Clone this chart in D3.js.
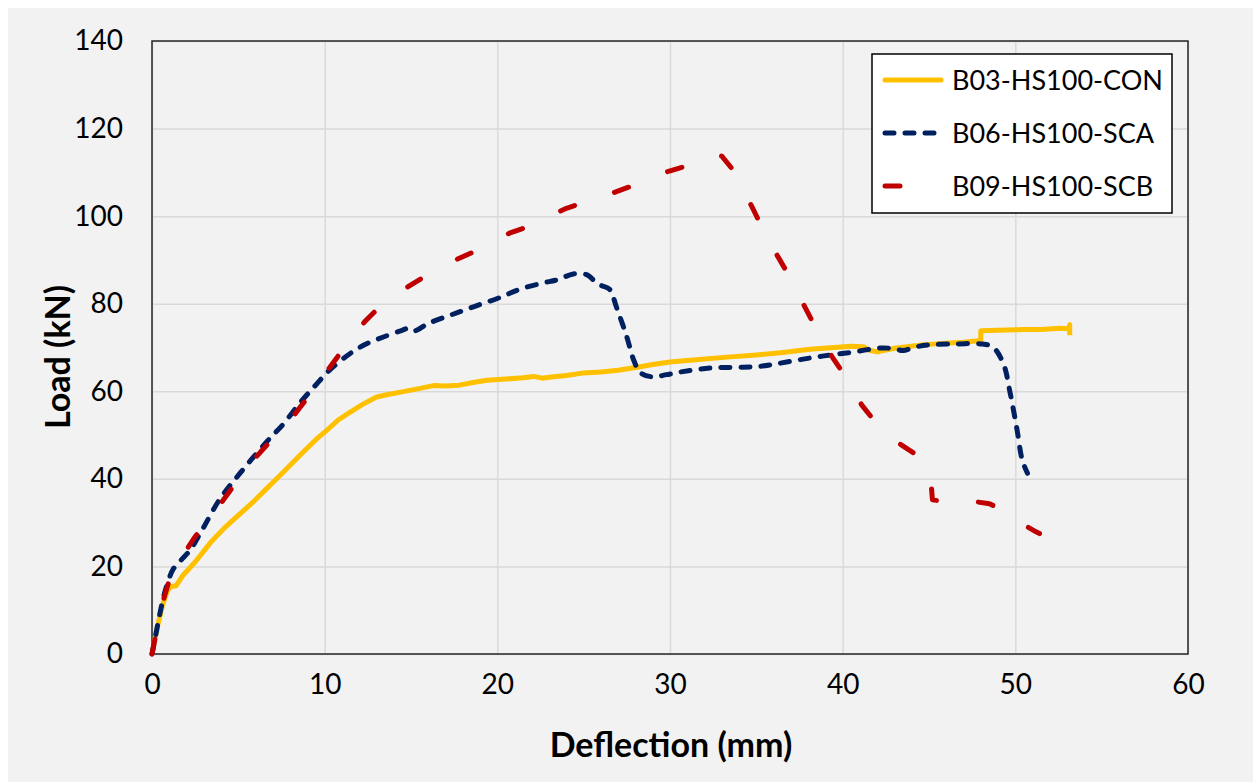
<!DOCTYPE html>
<html>
<head>
<meta charset="utf-8">
<script src="https://cdn.jsdelivr.net/npm/d3@7"></script>
<style>
  body { margin: 0; background: #ffffff; }
  svg { display: block; font-family: Lato, "Open Sans", sans-serif; }
</style>
</head>
<body>
<svg id="chart"></svg>
<script>
// B03-HS100-CON (deflection mm, load kN)
const conDefl = [0, 0.3, 0.6, 0.9, 1.1, 1.4, 1.8, 2.5, 3.4, 4.2, 4.9, 5.8, 6.7, 7.6, 8.6, 9.5, 10.1, 10.8, 11.5, 12.2, 13.0, 13.6, 14.4, 15.3, 16.3, 17.0, 17.8, 18.6, 19.4, 20.5, 21.5, 22.1, 22.6, 23.0, 24.0, 25.0, 26.0, 27.0, 28.1, 29.0, 30.0, 31.5, 33.3, 35.0, 36.4, 38.1, 39.5, 40.5, 41.2, 41.6, 42.0, 42.5, 43.1, 44.6, 46.0, 47.0, 48.0, 48.0, 49.5, 50.5, 51.5, 52.6, 53.1, 53.15, 53.15];
const conLoad = [0, 6, 11, 14.5, 15.4, 15.6, 18.0, 21.0, 25.5, 28.8, 31.3, 34.5, 38.0, 41.5, 45.5, 49.0, 51.0, 53.5, 55.3, 57.0, 58.7, 59.2, 59.8, 60.5, 61.3, 61.2, 61.4, 62.0, 62.5, 62.8, 63.1, 63.4, 63.0, 63.2, 63.6, 64.2, 64.4, 64.8, 65.5, 66.1, 66.7, 67.2, 67.8, 68.3, 68.8, 69.6, 70.0, 70.3, 70.2, 69.3, 69.0, 69.4, 69.9, 70.6, 71.0, 71.2, 71.6, 73.8, 74.0, 74.1, 74.1, 74.4, 74.3, 75.2, 72.8];

// B06-HS100-SCA
const scaDefl = [0, 0.2, 0.46, 0.7, 0.85, 1.2, 1.7, 2.2, 2.9, 3.9, 5.1, 6.65, 7.6, 8.6, 9.5, 10.3, 11.5, 12.4, 13.4, 14.4, 14.9, 15.2, 16.0, 17.3, 18.7, 20.2, 21.3, 22.6, 23.5, 24.4, 25.2, 25.6, 26.0, 26.5, 26.9, 27.5, 27.9, 28.3, 29.0, 29.8, 30.6, 32.3, 34.2, 35.2, 36.2, 38.1, 39.3, 40.5, 42.2, 43.0, 43.5, 44.2, 45.0, 46.5, 48.1, 48.7, 49.3, 49.7, 50.1, 50.4, 50.7];
const scaLoad = [0, 4, 9.3, 13.5, 15.5, 19.2, 21.5, 23.7, 28.3, 35.2, 41.3, 48.5, 52.5, 57.5, 61.5, 64.9, 68.7, 70.8, 72.4, 73.8, 74.4, 73.8, 75.5, 77.4, 79.4, 81.5, 83.3, 84.7, 85.5, 86.8, 86.6, 85.3, 84.2, 83.3, 79.2, 72.4, 67.1, 64.2, 63.3, 63.8, 64.4, 65.3, 65.5, 65.7, 66.3, 67.6, 68.3, 68.9, 69.9, 69.7, 69.3, 70.1, 70.6, 70.8, 70.8, 70.1, 66.4, 59.6, 51.2, 44.3, 41.3];

// B09-HS100-SCB
const scbDefl = [0, 0.3, 0.6, 1.0, 1.5, 2.1, 2.5, 3.4, 4.6, 5.8, 6.6, 8.0, 8.9, 9.6, 10.3, 10.9, 12.3, 13.0, 14.0, 14.8, 15.7, 17.7, 18.6, 20.7, 21.7, 24.0, 26.7, 27.8, 29.8, 30.9, 32.6, 33.0, 33.6, 34.7, 35.1, 36.2, 36.7, 38.2, 39.4, 39.9, 41.1, 41.7, 42.4, 43.3, 44.2, 45.1, 45.2, 45.6, 47.5, 48.5, 49.5, 50.4, 51.2, 51.4];
const scbLoad = [0, 6, 11.5, 16.9, 20.5, 24.4, 26.8, 31.3, 37.7, 44.0, 47.5, 53.4, 58.0, 62.0, 65.5, 68.7, 75.8, 78.6, 81.6, 83.8, 86.0, 90.2, 91.8, 96.1, 97.5, 101.8, 105.3, 106.9, 110.1, 111.4, 114.0, 113.7, 110.8, 102.5, 99.3, 91.1, 87.7, 76.3, 67.8, 64.9, 56.9, 53.9, 50.5, 48.0, 45.7, 40.0, 35.2, 35.0, 34.9, 34.3, 32.5, 29.7, 27.9, 27.5];

const xTicks = [0, 10, 20, 30, 40, 50, 60];
const yTicks = [0, 20, 40, 60, 80, 100, 120, 140];

const seriesNames = ["B03-HS100-CON", "B06-HS100-SCA", "B09-HS100-SCB"];

const W = 1253, H = 782;
const margin = { top: 41, right: 65, bottom: 128, left: 152 },
      width = 1188 - margin.left,
      height = 654 - margin.top;

const svg = d3.select("#chart").attr("width", W).attr("height", H);

// chart background
svg.append("rect").attr("x", 8).attr("y", 8).attr("width", W - 8).attr("height", H - 8).attr("fill", "#f2f2f2");

const g = svg.append("g").attr("transform", `translate(${margin.left},${margin.top})`);

const x = d3.scaleLinear().domain([0, 60]).range([0, width]);
const y = d3.scaleLinear().domain([0, 140]).range([height, 0]);

// grid
g.append("g")
  .call(d3.axisBottom(x).tickValues(xTicks).tickSize(height).tickFormat(""))
  .call(a => a.select(".domain").remove())
  .selectAll(".tick line").attr("stroke", "#d9d9d9").attr("stroke-width", 1.5);
g.append("g")
  .call(d3.axisLeft(y).tickValues(yTicks).tickSize(-width).tickFormat(""))
  .call(a => a.select(".domain").remove())
  .selectAll(".tick line").attr("stroke", "#d9d9d9").attr("stroke-width", 1.5);

// plot frame
g.append("rect").attr("width", width).attr("height", height)
  .attr("fill", "none").attr("stroke", "#262626").attr("stroke-width", 1.5);

// tick labels
g.append("g")
  .attr("transform", `translate(0,${height})`)
  .call(d3.axisBottom(x).tickValues(xTicks).tickSize(0).tickPadding(20))
  .call(a => a.select(".domain").remove())
  .selectAll("text").attr("font-family", "Lato").attr("font-size", 28).attr("fill", "#000");
g.append("g")
  .call(d3.axisLeft(y).tickValues(yTicks).tickSize(0).tickPadding(29))
  .call(a => a.select(".domain").remove())
  .selectAll("text").attr("font-family", "Lato").attr("font-size", 28).attr("fill", "#000");

// axis titles
svg.append("text")
  .attr("x", 671).attr("y", 757)
  .attr("text-anchor", "middle")
  .attr("font-size", 34).attr("font-weight", "bold")
  .text("Deflection (mm)");
svg.append("text")
  .attr("transform", "translate(70,357) rotate(-90)")
  .attr("text-anchor", "middle")
  .attr("font-size", 34).attr("font-weight", "bold")
  .text("Load (kN)");

const zip = (a, b) => a.map((d, i) => [d, b[i]]);
const series = [
  { name: seriesNames[0], data: zip(conDefl, conLoad), color: "#ffc000", dash: null, curve: d3.curveLinear },
  { name: seriesNames[1], data: zip(scaDefl, scaLoad), color: "#002060", dash: "9,11", curve: d3.curveCatmullRom.alpha(0.5) },
  { name: seriesNames[2], data: zip(scbDefl, scbLoad), color: "#c00000", dash: "15,42", curve: d3.curveLinear }
];

series.forEach(s => {
  const line = d3.line().x(d => x(d[0])).y(d => y(d[1])).curve(s.curve);
  g.append("path")
    .datum(s.data)
    .attr("d", line)
    .attr("fill", "none")
    .attr("stroke", s.color)
    .attr("stroke-width", 5)
    .attr("stroke-linejoin", "round")
    .attr("stroke-linecap", s.dash ? "round" : "butt")
    .attr("stroke-dasharray", s.dash);
});

// legend
const leg = svg.append("g");
leg.append("rect").attr("x", 872).attr("y", 54).attr("width", 300).attr("height", 159)
  .attr("fill", "#ffffff").attr("stroke", "#000").attr("stroke-width", 1.5);
series.forEach((s, i) => {
  const ly = 80 + i * 53;
  leg.append("line")
    .attr("x1", 885).attr("x2", 941).attr("y1", ly).attr("y2", ly)
    .attr("stroke", s.color).attr("stroke-width", 5)
    .attr("stroke-linecap", "round")
    .attr("stroke-dasharray", s.dash);
  leg.append("text")
    .attr("x", 952).attr("y", ly + 10)
    .attr("font-size", 27)
    .text(s.name);
});
</script>
</body>
</html>
